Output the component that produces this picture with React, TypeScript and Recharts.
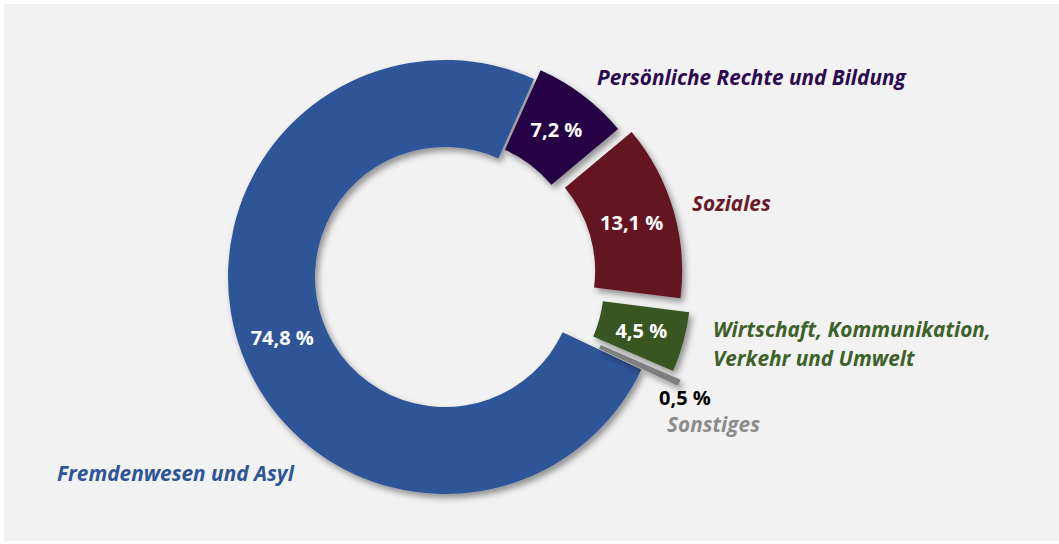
import React from 'react';
import { PieChart, Pie, Cell } from 'recharts';

const categories = [
  'Fremdenwesen und Asyl',
  'Persönliche Rechte und Bildung',
  'Soziales',
  'Wirtschaft, Kommunikation,|Verkehr und Umwelt',
  'Sonstiges',
];
const shares = [74.8, 7.2, 13.1, 4.5, 0.5];
const shareLabels = ['74,8 %', '7,2 %', '13,1 %', '4,5 %', '0,5 %'];

// styles
const SLICE_COLORS = ['#2F5597', '#270045', '#631422', '#385723', '#7F7F7F'];
const NAME_COLORS = ['#2F5597', '#2C0A50', '#6A1A2A', '#3D6128', '#8C8C8C'];
const PCT_COLORS = ['#FFFFFF', '#FFFFFF', '#FFFFFF', '#FFFFFF', '#000000'];
const EXPLODE = [0, 11, 21, 30, 40];
// name label anchors relative to pie centre [dx, dy(baseline)]
const NAME_POS: [number, number][] = [
  [-388, 204],
  [152, -192],
  [247, -66],
  [268, 60],
  [222, 155],
];
const PCT_OUTSIDE_POS: [number, number] = [214, 128];

const W = 1055;
const H = 537;
const CX = 441;
const CY = 273;
const INNER = 130;
const OUTER = 217;
const START = -25.2;
const END = START - 360;
const FONT = '"Open Sans", Lato, sans-serif';
const NAME_SIZE = 20.8;
const PCT_SIZE = 20;
const RAD = Math.PI / 180;

const rows = categories.map((name, i) => ({ name, value: shares[i] }));
const total = shares.reduce((a, b) => a + b, 0);

function midAngle(i: number) {
  const before = shares.slice(0, i).reduce((a, b) => a + b, 0);
  return START - (360 * (before + shares[i] / 2)) / total;
}

export default function App() {
  return (
    <div
      style={{
        position: 'absolute',
        left: 4,
        top: 4,
        width: W,
        height: H,
        background: '#F2F2F2',
      }}
    >
      <svg width={0} height={0} style={{ position: 'absolute' }}>
        <defs>
          <filter id="sliceShadow" x="-20%" y="-20%" width="140%" height="140%">
            <feDropShadow dx="3" dy="4" stdDeviation="3" floodColor="#000" floodOpacity="0.4" />
          </filter>
        </defs>
      </svg>
      <PieChart width={W} height={H} margin={{ top: 0, right: 0, bottom: 0, left: 0 }}>
        {rows.map((_, k) => {
          const m = midAngle(k) * RAD;
          const cx = CX + EXPLODE[k] * Math.cos(m);
          const cy = CY - EXPLODE[k] * Math.sin(m);
          return (
            <Pie
              key={k}
              data={rows}
              dataKey="value"
              nameKey="name"
              cx={cx}
              cy={cy}
              innerRadius={INNER}
              outerRadius={OUTER}
              startAngle={START}
              endAngle={END}
              stroke="none"
              isAnimationActive={false}
              labelLine={false}
              label={(p: any) => {
                if (p.index !== k) return <g />;
                const a = -p.midAngle * RAD;
                const r = (p.innerRadius + p.outerRadius) / 2;
                const lx = p.cx + r * Math.cos(a);
                const ly = p.cy + r * Math.sin(a);
                const nameLines = categories[k].split('|');
                const [ndx, ndy] = NAME_POS[k];
                return (
                  <g>
                    {k < 4 ? (
                      <text
                        x={lx}
                        y={ly}
                        textAnchor="middle"
                        dominantBaseline="central"
                        fill={PCT_COLORS[k]}
                        fontFamily={FONT}
                        fontWeight={700}
                        fontSize={PCT_SIZE}
                      >
                        {shareLabels[k]}
                      </text>
                    ) : (
                      <text
                        x={CX + PCT_OUTSIDE_POS[0]}
                        y={CY + PCT_OUTSIDE_POS[1]}
                        textAnchor="start"
                        fill={PCT_COLORS[k]}
                        fontFamily={FONT}
                        fontWeight={700}
                        fontSize={PCT_SIZE}
                      >
                        {shareLabels[k]}
                      </text>
                    )}
                    {nameLines.map((line, j) => (
                      <text
                        key={j}
                        x={CX + ndx}
                        y={CY + ndy + j * 29}
                        textAnchor="start"
                        fill={NAME_COLORS[k]}
                        fontFamily={FONT}
                        fontWeight={700}
                        fontStyle="italic"
                        fontSize={NAME_SIZE}
                      >
                        {line}
                      </text>
                    ))}
                  </g>
                );
              }}
            >
              {rows.map((_, i) => (
                <Cell
                  key={i}
                  fill={i === k ? SLICE_COLORS[i] : 'transparent'}
                  style={i === k ? { filter: 'url(#sliceShadow)' } : { pointerEvents: 'none' }}
                />
              ))}
            </Pie>
          );
        })}
      </PieChart>
    </div>
  );
}
